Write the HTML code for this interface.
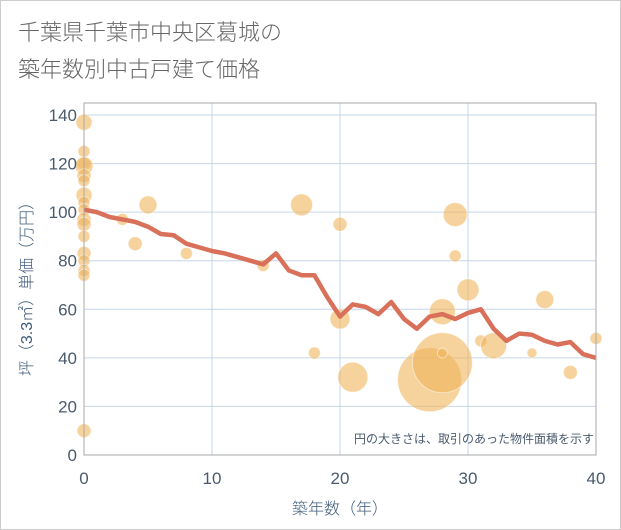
<!DOCTYPE html>
<html><head><meta charset="utf-8"><style>
body{margin:0;background:#fff;}
svg{display:block;font-family:"Liberation Sans","Noto Sans CJK JP",sans-serif;}
</style></head><body>
<svg id="c" width="621" height="530">
<rect x="0.5" y="0.5" width="620" height="529" fill="#fff" stroke="#ccc"/>
<text x="18" y="40" font-size="22" fill="#666" font-weight="300">千葉県千葉市中央区葛城の</text>
<text x="18" y="77" font-size="22" fill="#666" font-weight="300">築年数別中古戸建て価格</text>
<g id="grid"></g>
<g id="dots"></g>
<g id="line"></g>
<g id="axes"></g>
<text x="594" y="443" font-size="12" fill="#4a5a6e" text-anchor="end">円の大きさは、取引のあった物件面積を示す</text>
<text x="340" y="514" font-size="16" fill="#3d5a7a" text-anchor="middle" font-weight="300">築年数（年）</text>
<text transform="translate(32,285) rotate(-90)" font-size="16" fill="#3d5a7a" text-anchor="middle" font-weight="300">坪（3.3㎡）単価（万円）</text>
</svg>
<script>
const xTicks=[0,10,20,30,40];
const yTicks=[0,20,40,60,80,100,120,140];
const lineYears=[0,1,2,3,4,5,6,7,8,9,10,11,12,13,14,15,16,17,18,19,20,21,22,23,24,25,26,27,28,29,30,31,32,33,34,35,36,37,38,39,40];
const lineValues=[101,100,98,97,96,94,91,90.5,87,85.5,84,83,81.5,80,78.5,83,76,74,74,65,57,62,61,58,63,56,52,57,58,56,58.5,60,52,47,50,49.5,47,45.5,46.5,41.5,40];
const dotYears=[0,0,0,0,0,0,0,0,0,0,0,0,0,0,0,0,0,3,4,5,8,14,17,18,20,20,21,27,28,28,28,29,29,30,31,32,35,36,38,40];
const dotValues=[137,125,120,119,115,113,107,104,101,97,95,90,83,80,76,74,10,97,87,103,83,78,103,42,95,56,32,31,38,59,42,99,82,68,47,45,42,64,34,48];
const dotSizes=[8,6,7,9,7,6,8,6,6,7,7,6,7,6,6,6,7,6,7,9,6,6,11,6,7,10,15,32,30,13,5,12,6,11,6,13,5,9,7,6];
const NS="http://www.w3.org/2000/svg";
const X0=84,X1=596,Y0=455,Y1=115;
const xs=v=>X0+(v-0)/40*(X1-X0);
const ys=v=>Y0-(v/140)*(Y0-Y1);
function mk(t,a,p){const e=document.createElementNS(NS,t);for(const k in a)e.setAttribute(k,a[k]);p.appendChild(e);return e;}
const grid=document.getElementById('grid'),axes=document.getElementById('axes');
yTicks.forEach(v=>{
 const l=mk('line',{x1:X0,x2:X1,y1:ys(v),y2:ys(v),stroke:'#c5d6e8','stroke-width':1},grid);
 
 
 const t=mk('text',{x:X0-7,y:ys(v)+6,'font-size':17,fill:'#4a5a6e','text-anchor':'end'},axes);
 t.textContent=v;
 
 
});
xTicks.forEach(v=>{
 const l=mk('line',{x1:xs(v),x2:xs(v),y1:Y1-12,y2:Y0,stroke:'#c5d6e8','stroke-width':1},grid);
 
 
 const t=mk('text',{x:xs(v),y:484,'font-size':17,fill:'#4a5a6e','text-anchor':'middle'},axes);
 t.textContent=v;
 
 
});
const fr=mk('rect',{x:X0,y:Y1-12,width:X1-X0,height:Y0-Y1+12,fill:'none',stroke:'#aaa','stroke-width':1},axes);


const dots=document.getElementById('dots');
dotYears.forEach((yr,i)=>{
 const c=mk('circle',{cx:xs(yr),cy:ys(dotValues[i]),r:dotSizes[i],fill:'rgba(240,180,90,0.6)',stroke:'rgba(255,255,255,0.5)','stroke-width':1},dots);
 
 
});
const pts=lineYears.map((y,i)=>xs(y)+','+ys(lineValues[i])).join(' ');
const pl=mk('polyline',{points:pts,fill:'none',stroke:'#d9705a','stroke-width':4.5,'stroke-linejoin':'round'},document.getElementById('line'));


</script>
</body></html>
